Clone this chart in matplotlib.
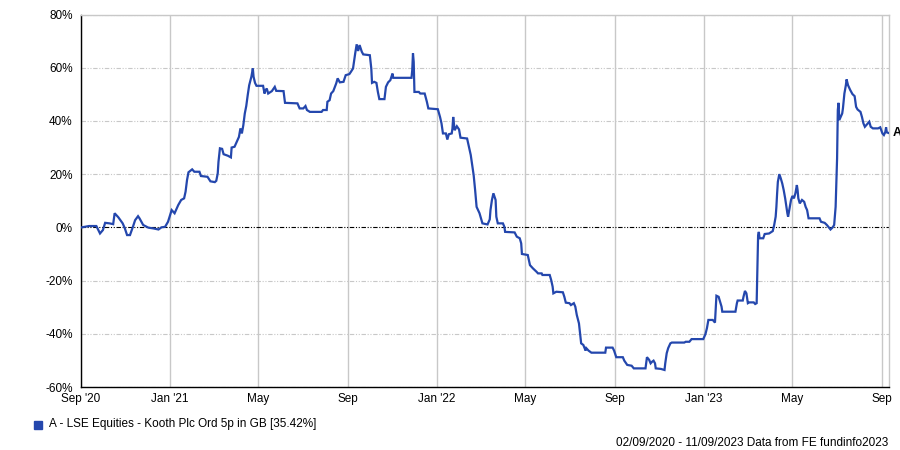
import matplotlib
matplotlib.use("Agg")
import matplotlib.pyplot as plt
import matplotlib.dates as mdates
import pandas as pd

dates = [
    "2020-09-02", "2020-09-12", "2020-09-22", "2020-09-27", "2020-10-01", "2020-10-04", "2020-10-10",
    "2020-10-15", "2020-10-17", "2020-10-22", "2020-10-28", "2020-10-31", "2020-11-03", "2020-11-07",
    "2020-11-11", "2020-11-14", "2020-11-18", "2020-11-20", "2020-11-25", "2020-12-02", "2020-12-09",
    "2020-12-16", "2020-12-20", "2020-12-25", "2020-12-29", "2021-01-03", "2021-01-07", "2021-01-12",
    "2021-01-16", "2021-01-20", "2021-01-22", "2021-01-24", "2021-01-26", "2021-01-31", "2021-02-03",
    "2021-02-10", "2021-02-12", "2021-02-21", "2021-02-25", "2021-03-03", "2021-03-05", "2021-03-07",
    "2021-03-08", "2021-03-10", "2021-03-13", "2021-03-15", "2021-03-21", "2021-03-25", "2021-03-26",
    "2021-03-30", "2021-04-02", "2021-04-05", "2021-04-07", "2021-04-09", "2021-04-11", "2021-04-13",
    "2021-04-15", "2021-04-17", "2021-04-19", "2021-04-22", "2021-04-24", "2021-04-25", "2021-04-27",
    "2021-04-29", "2021-05-08", "2021-05-10", "2021-05-11", "2021-05-13", "2021-05-15", "2021-05-20",
    "2021-05-24", "2021-05-26", "2021-06-05", "2021-06-07", "2021-06-24", "2021-06-27", "2021-07-02",
    "2021-07-05", "2021-07-07", "2021-07-11", "2021-07-27", "2021-07-29", "2021-08-03", "2021-08-04",
    "2021-08-07", "2021-08-09", "2021-08-12", "2021-08-16", "2021-08-18", "2021-08-21", "2021-08-26",
    "2021-08-29", "2021-09-03", "2021-09-05", "2021-09-08", "2021-09-09", "2021-09-11", "2021-09-13",
    "2021-09-15", "2021-09-17", "2021-09-20", "2021-09-22", "2021-10-01", "2021-10-03", "2021-10-04",
    "2021-10-07", "2021-10-10", "2021-10-12", "2021-10-14", "2021-10-21", "2021-10-23", "2021-10-26",
    "2021-10-29", "2021-11-01", "2021-11-02", "2021-11-27", "2021-11-28", "2021-11-29", "2021-11-30",
    "2021-12-01", "2021-12-07", "2021-12-09", "2021-12-15", "2021-12-18", "2021-12-20", "2022-01-02",
    "2022-01-05", "2022-01-07", "2022-01-09", "2022-01-13", "2022-01-15", "2022-01-17", "2022-01-21",
    "2022-01-22", "2022-01-23", "2022-01-25", "2022-01-28", "2022-01-31", "2022-02-02", "2022-02-11",
    "2022-02-13", "2022-02-16", "2022-02-18", "2022-02-20", "2022-02-22", "2022-02-24", "2022-02-28",
    "2022-03-04", "2022-03-11", "2022-03-14", "2022-03-15", "2022-03-17", "2022-03-19", "2022-03-22",
    "2022-03-23", "2022-03-25", "2022-04-01", "2022-04-03", "2022-04-04", "2022-04-17", "2022-04-20",
    "2022-04-24", "2022-04-26", "2022-04-27", "2022-05-05", "2022-05-08", "2022-05-12", "2022-05-17",
    "2022-05-19", "2022-05-24", "2022-05-25", "2022-06-04", "2022-06-06", "2022-06-08", "2022-06-09",
    "2022-06-13", "2022-06-22", "2022-06-24", "2022-06-26", "2022-07-01", "2022-07-03", "2022-07-07",
    "2022-07-09", "2022-07-11", "2022-07-14", "2022-07-16", "2022-07-17", "2022-07-20", "2022-07-23",
    "2022-07-24", "2022-07-27", "2022-07-31", "2022-08-19", "2022-08-20", "2022-08-29", "2022-08-31",
    "2022-09-03", "2022-09-12", "2022-09-14", "2022-09-18", "2022-09-24", "2022-09-27", "2022-10-13",
    "2022-10-15", "2022-10-18", "2022-10-20", "2022-10-22", "2022-10-24", "2022-10-26", "2022-10-27",
    "2022-11-03", "2022-11-08", "2022-11-09", "2022-11-11", "2022-11-13", "2022-11-16", "2022-11-18",
    "2022-12-05", "2022-12-07", "2022-12-12", "2022-12-15", "2022-12-31", "2023-01-03", "2023-01-05",
    "2023-01-07", "2023-01-13", "2023-01-16", "2023-01-17", "2023-01-18", "2023-01-21", "2023-01-23",
    "2023-01-25", "2023-01-26", "2023-02-13", "2023-02-15", "2023-02-16", "2023-02-23", "2023-02-24",
    "2023-02-26", "2023-02-28", "2023-03-02", "2023-03-04", "2023-03-10", "2023-03-12", "2023-03-14",
    "2023-03-15", "2023-03-16", "2023-03-17", "2023-03-18", "2023-03-23", "2023-03-25", "2023-03-31",
    "2023-04-05", "2023-04-07", "2023-04-09", "2023-04-10", "2023-04-11", "2023-04-12", "2023-04-14",
    "2023-04-16", "2023-04-18", "2023-04-20", "2023-04-22", "2023-04-24", "2023-04-25", "2023-04-26",
    "2023-04-28", "2023-04-30", "2023-05-02", "2023-05-04", "2023-05-06", "2023-05-08", "2023-05-09",
    "2023-05-10", "2023-05-12", "2023-05-15", "2023-05-18", "2023-05-20", "2023-05-22", "2023-05-24",
    "2023-06-08", "2023-06-10", "2023-06-15", "2023-06-18", "2023-06-23", "2023-06-26", "2023-06-28",
    "2023-06-30", "2023-07-02", "2023-07-03", "2023-07-04", "2023-07-05", "2023-07-07", "2023-07-09",
    "2023-07-10", "2023-07-12", "2023-07-14", "2023-07-15", "2023-07-17", "2023-07-20", "2023-07-23",
    "2023-07-26", "2023-07-28", "2023-07-30", "2023-08-03", "2023-08-05", "2023-08-07", "2023-08-09",
    "2023-08-13", "2023-08-15", "2023-08-17", "2023-08-20", "2023-08-27", "2023-08-30", "2023-09-02",
    "2023-09-04", "2023-09-06", "2023-09-07", "2023-09-08", "2023-09-11",
]

values = [
    0.0, 0.5, 0.5, -2.3, -1.0, 1.7, 1.5,
    1.2, 5.3, 3.8, 1.5, -0.4, -2.9, -2.9,
    0.2, 2.7, 4.2, 3.4, 0.9, -0.1, -0.4,
    -0.8, 0.0, 0.2, 2.1, 6.5, 5.3, 8.4,
    10.3, 10.9, 13.4, 17.8, 20.7, 21.8, 20.9,
    20.9, 19.3, 19.0, 17.3, 17.0, 17.5, 20.3,
    24.6, 29.7, 29.5, 27.5, 26.9, 26.3, 30.0,
    30.3, 32.2, 34.0, 37.2, 35.3, 38.4, 42.8,
    45.6, 49.7, 53.4, 56.6, 59.7, 56.6, 54.3,
    53.2, 53.2, 50.3, 51.3, 52.2, 50.3, 51.2,
    52.8, 51.3, 51.2, 46.8, 46.6, 44.7, 44.7,
    45.6, 44.1, 43.4, 43.4, 44.1, 44.1, 47.2,
    47.8, 50.3, 51.2, 54.1, 56.0, 54.5, 54.7,
    57.2, 57.6, 58.4, 59.7, 61.6, 65.4, 68.8,
    66.3, 68.5, 66.0, 65.0, 64.7, 59.7, 54.3,
    54.7, 54.3, 50.9, 48.2, 48.2, 52.8, 54.5,
    55.3, 57.8, 56.2, 56.2, 59.1, 65.4, 62.2,
    50.9, 50.9, 50.3, 50.3, 47.2, 44.7, 44.4,
    41.5, 39.1, 35.3, 35.3, 33.0, 35.0, 35.3,
    37.2, 41.5, 36.5, 38.0, 36.8, 33.7, 33.4,
    30.9, 27.2, 23.4, 19.6, 14.0, 7.7, 5.3,
    1.5, 1.1, 3.0, 6.5, 10.3, 12.8, 10.3,
    4.0, 1.5, 1.5, 0.2, -1.7, -1.9, -3.5,
    -4.1, -6.0, -10.0, -10.4, -14.2, -15.4, -16.7,
    -17.3, -17.3, -17.9, -17.9, -19.8, -22.3, -24.8,
    -24.2, -24.4, -26.1, -28.3, -28.5, -29.2, -28.5,
    -29.8, -32.9, -36.1, -41.1, -43.6, -44.2, -46.3,
    -45.4, -46.3, -47.1, -47.1, -45.2, -45.2, -46.3,
    -48.8, -48.8, -50.1, -51.7, -52.0, -53.0, -53.0,
    -48.8, -49.8, -51.1, -50.5, -50.1, -51.1, -53.0,
    -53.2, -53.6, -51.1, -47.3, -45.4, -43.6, -43.3,
    -43.3, -43.0, -43.0, -42.0, -42.0, -40.1, -37.9,
    -34.8, -34.8, -35.8, -31.1, -25.7, -26.1, -27.9,
    -29.8, -31.7, -31.7, -28.5, -27.5, -27.5, -26.1,
    -23.9, -24.8, -28.5, -28.2, -28.2, -28.8, -28.5,
    -16.0, -2.9, -1.7, -4.1, -4.1, -2.5, -2.3,
    -1.4, 0.9, 4.0, 7.7, 12.8, 17.1, 20.0,
    18.4, 16.5, 14.0, 10.9, 7.1, 5.3, 4.0,
    7.1, 10.3, 11.8, 10.9, 12.8, 15.9, 14.0,
    10.9, 9.0, 10.3, 9.6, 7.7, 6.5, 3.4,
    3.4, 2.1, 1.7, 0.9, -0.8, 0.0, 0.9,
    7.7, 25.9, 44.1, 46.8, 40.3, 41.5, 42.8,
    44.7, 50.3, 53.4, 55.6, 53.4, 51.6, 50.1,
    49.3, 45.3, 44.3, 43.4, 41.5, 39.1, 37.8,
    39.1, 39.7, 37.8, 37.2, 37.2, 37.6, 35.3,
    34.7, 35.9, 37.6, 35.7, 35.42,
]

y_ticks = [-60, -40, -20, 0, 20, 40, 60, 80]
x_tick_dates = ["2020-09-01", "2021-01-01", "2021-05-01", "2021-09-01", "2022-01-01",
                "2022-05-01", "2022-09-01", "2023-01-01", "2023-05-01", "2023-09-01"]
x_tick_labels = ["Sep '20", "Jan '21", "May", "Sep", "Jan '22", "May", "Sep", "Jan '23", "May", "Sep"]

series_label = "A - LSE Equities - Kooth Plc Ord 5p in GB [35.42%]"
footer = "02/09/2020 - 11/09/2023 Data from FE fundinfo2023"
line_color = "#2447AD"

plt.rcParams['font.family'] = ['Liberation Sans', 'DejaVu Sans']

x = pd.to_datetime(dates)
fig = plt.figure(figsize=(9, 4.5), dpi=100)
ax = fig.add_axes([81 / 900, 1 - 387 / 450, (889 - 81) / 900, (387 - 14.5) / 450])

ax.set_xlim(pd.Timestamp("2020-09-01"), pd.Timestamp("2023-09-11"))
ax.set_ylim(-60, 80)

# grid
for d in pd.to_datetime(x_tick_dates):
    ax.axvline(d, color="#c8c8c8", lw=1.0, zorder=1)
for v in y_ticks:
    if v != 0:
        ax.axhline(v, color="#c8c8c8", lw=0.8, ls=(0, (4, 1.5, 1, 1.5, 1, 1.5)), zorder=1)
ax.axhline(0, color="black", lw=0.8, ls=(0, (4, 1.5, 1, 1.5, 1, 1.5)), zorder=2)

ax.plot(x, values, color=line_color, lw=1.6, zorder=3, solid_joinstyle="miter")

ax.set_yticks(y_ticks)
ax.set_yticklabels([f"{v}%" for v in y_ticks])
ax.set_xticks(pd.to_datetime(x_tick_dates))
ax.set_xticklabels(x_tick_labels)
ax.tick_params(axis="both", length=0, labelsize=8.5, colors="black")
ax.tick_params(axis="y", pad=6)
ax.tick_params(axis="x", pad=4.5)

for s in ["left", "bottom"]:
    ax.spines[s].set_color("black")
    ax.spines[s].set_linewidth(1.0)
for s in ["top", "right"]:
    ax.spines[s].set_color("#c8c8c8")
    ax.spines[s].set_linewidth(1.0)

ax.text(1.004, (values[-1] + 60) / 140, "A", transform=ax.transAxes, fontsize=9,
        fontweight="bold", va="center", ha="left", clip_on=False)

# legend
fig.patches.append(plt.Rectangle((34 / 900, 1 - 428.5 / 450), 8 / 900, 8 / 450,
                                 transform=fig.transFigure, color=line_color))
fig.text(49 / 900, 1 - 424.5 / 450, series_label, fontsize=8.5, va="center", ha="left")
fig.text(888 / 900, 1 - 443 / 450, footer, fontsize=8.5, va="center", ha="right")

fig.savefig("out.png", dpi=100)
